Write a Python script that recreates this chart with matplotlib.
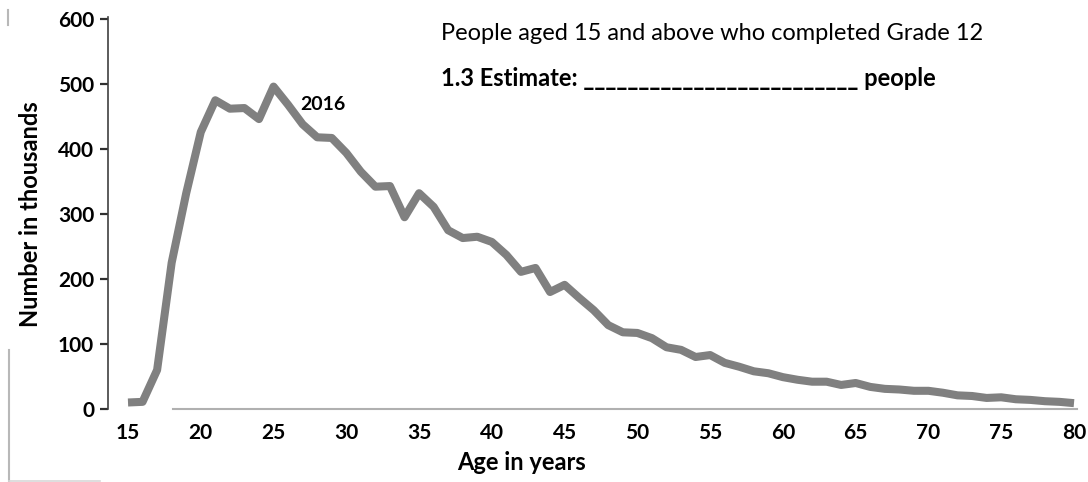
import numpy as np
import matplotlib.pyplot as plt
from matplotlib.lines import Line2D

# people who completed Grade 12, by age (thousands), 2016
ages = list(range(15, 81))
people = [10, 11, 60, 225, 332, 426, 475, 462, 463, 446,
          496, 468, 438, 418, 417, 394, 365, 342, 343, 295,
          332, 311, 275, 263, 265, 257, 237, 211, 217, 180,
          191, 171, 152, 129, 118, 117, 109, 95, 91, 80,
          83, 71, 65, 58, 55, 49, 45, 42, 42, 37,
          40, 34, 31, 30, 28, 28, 25, 21, 20, 17,
          18, 15, 14, 12, 11, 9]

yticks = [0, 100, 200, 300, 400, 500, 600]
xticks = [15, 20, 25, 30, 35, 40, 45, 50, 55, 60, 65, 70, 75, 80]

plt.rcParams['font.family'] = ['Lato', 'DejaVu Sans']

W, H = 1088, 482
fig = plt.figure(figsize=(W / 100, H / 100), dpi=100)
ax = fig.add_axes([108 / W, 1 - 409 / H, 972 / W, 390 / H])

ax.plot(ages, people, color='#808080', lw=5.8, solid_joinstyle='round',
        solid_capstyle='butt', clip_on=False)

ax.set_xlim(15 - 20 / 14.554, 80 + 6 / 14.554)
ax.set_ylim(0, 600)

ax.set_xticks(xticks)
ax.set_yticks(yticks)
ax.tick_params(axis='x', length=0, pad=10, labelsize=15)
ax.tick_params(axis='y', length=6, width=1.6, color='#303030', pad=4, labelsize=15)
for lab in ax.get_xticklabels() + ax.get_yticklabels():
    lab.set_fontweight('bold')

for side in ['top', 'right']:
    ax.spines[side].set_visible(False)
ax.spines['left'].set_color('#404040')
ax.spines['left'].set_linewidth(1.2)
ax.spines['left'].set_bounds(0, 603)
ax.spines['bottom'].set_color('#b0b0b0')
ax.spines['bottom'].set_linewidth(1.5)
ax.spines['bottom'].set_bounds(18.1, 80.2)

ax.set_xlabel('Age in years', fontsize=17, fontweight='bold')
ax.set_ylabel('Number in thousands', fontsize=17, fontweight='bold')
ax.xaxis.set_label_coords(0.425, -0.108)
ax.yaxis.set_label_coords(-0.068, 0.5)

ax.text(26.85, 469, '2016', fontsize=14, fontweight='bold', va='center', ha='left')

fig.text(441 / W, 1 - 33 / H, 'People aged 15 and above who completed Grade 12',
         fontsize=17, va='center', ha='left')
fig.text(441 / W, 1 - 78 / H, '1.3 Estimate: ' + '_' * 25 + ' people',
         fontsize=17, fontweight='bold', va='center', ha='left')

# page border remnants at the left edge
grey = '#b8b8b8'
fig.add_artist(Line2D([8 / W, 8 / W], [1 - 10 / H, 1 - 25 / H], color=grey, lw=1.5))
fig.add_artist(Line2D([9 / W, 9 / W], [1 - 350 / H, 0], color=grey, lw=1.5))
fig.add_artist(Line2D([9 / W, 100 / W], [1 / H, 1 / H], color='#d8d8d8', lw=1.2))

fig.savefig('out.png', dpi=100)
